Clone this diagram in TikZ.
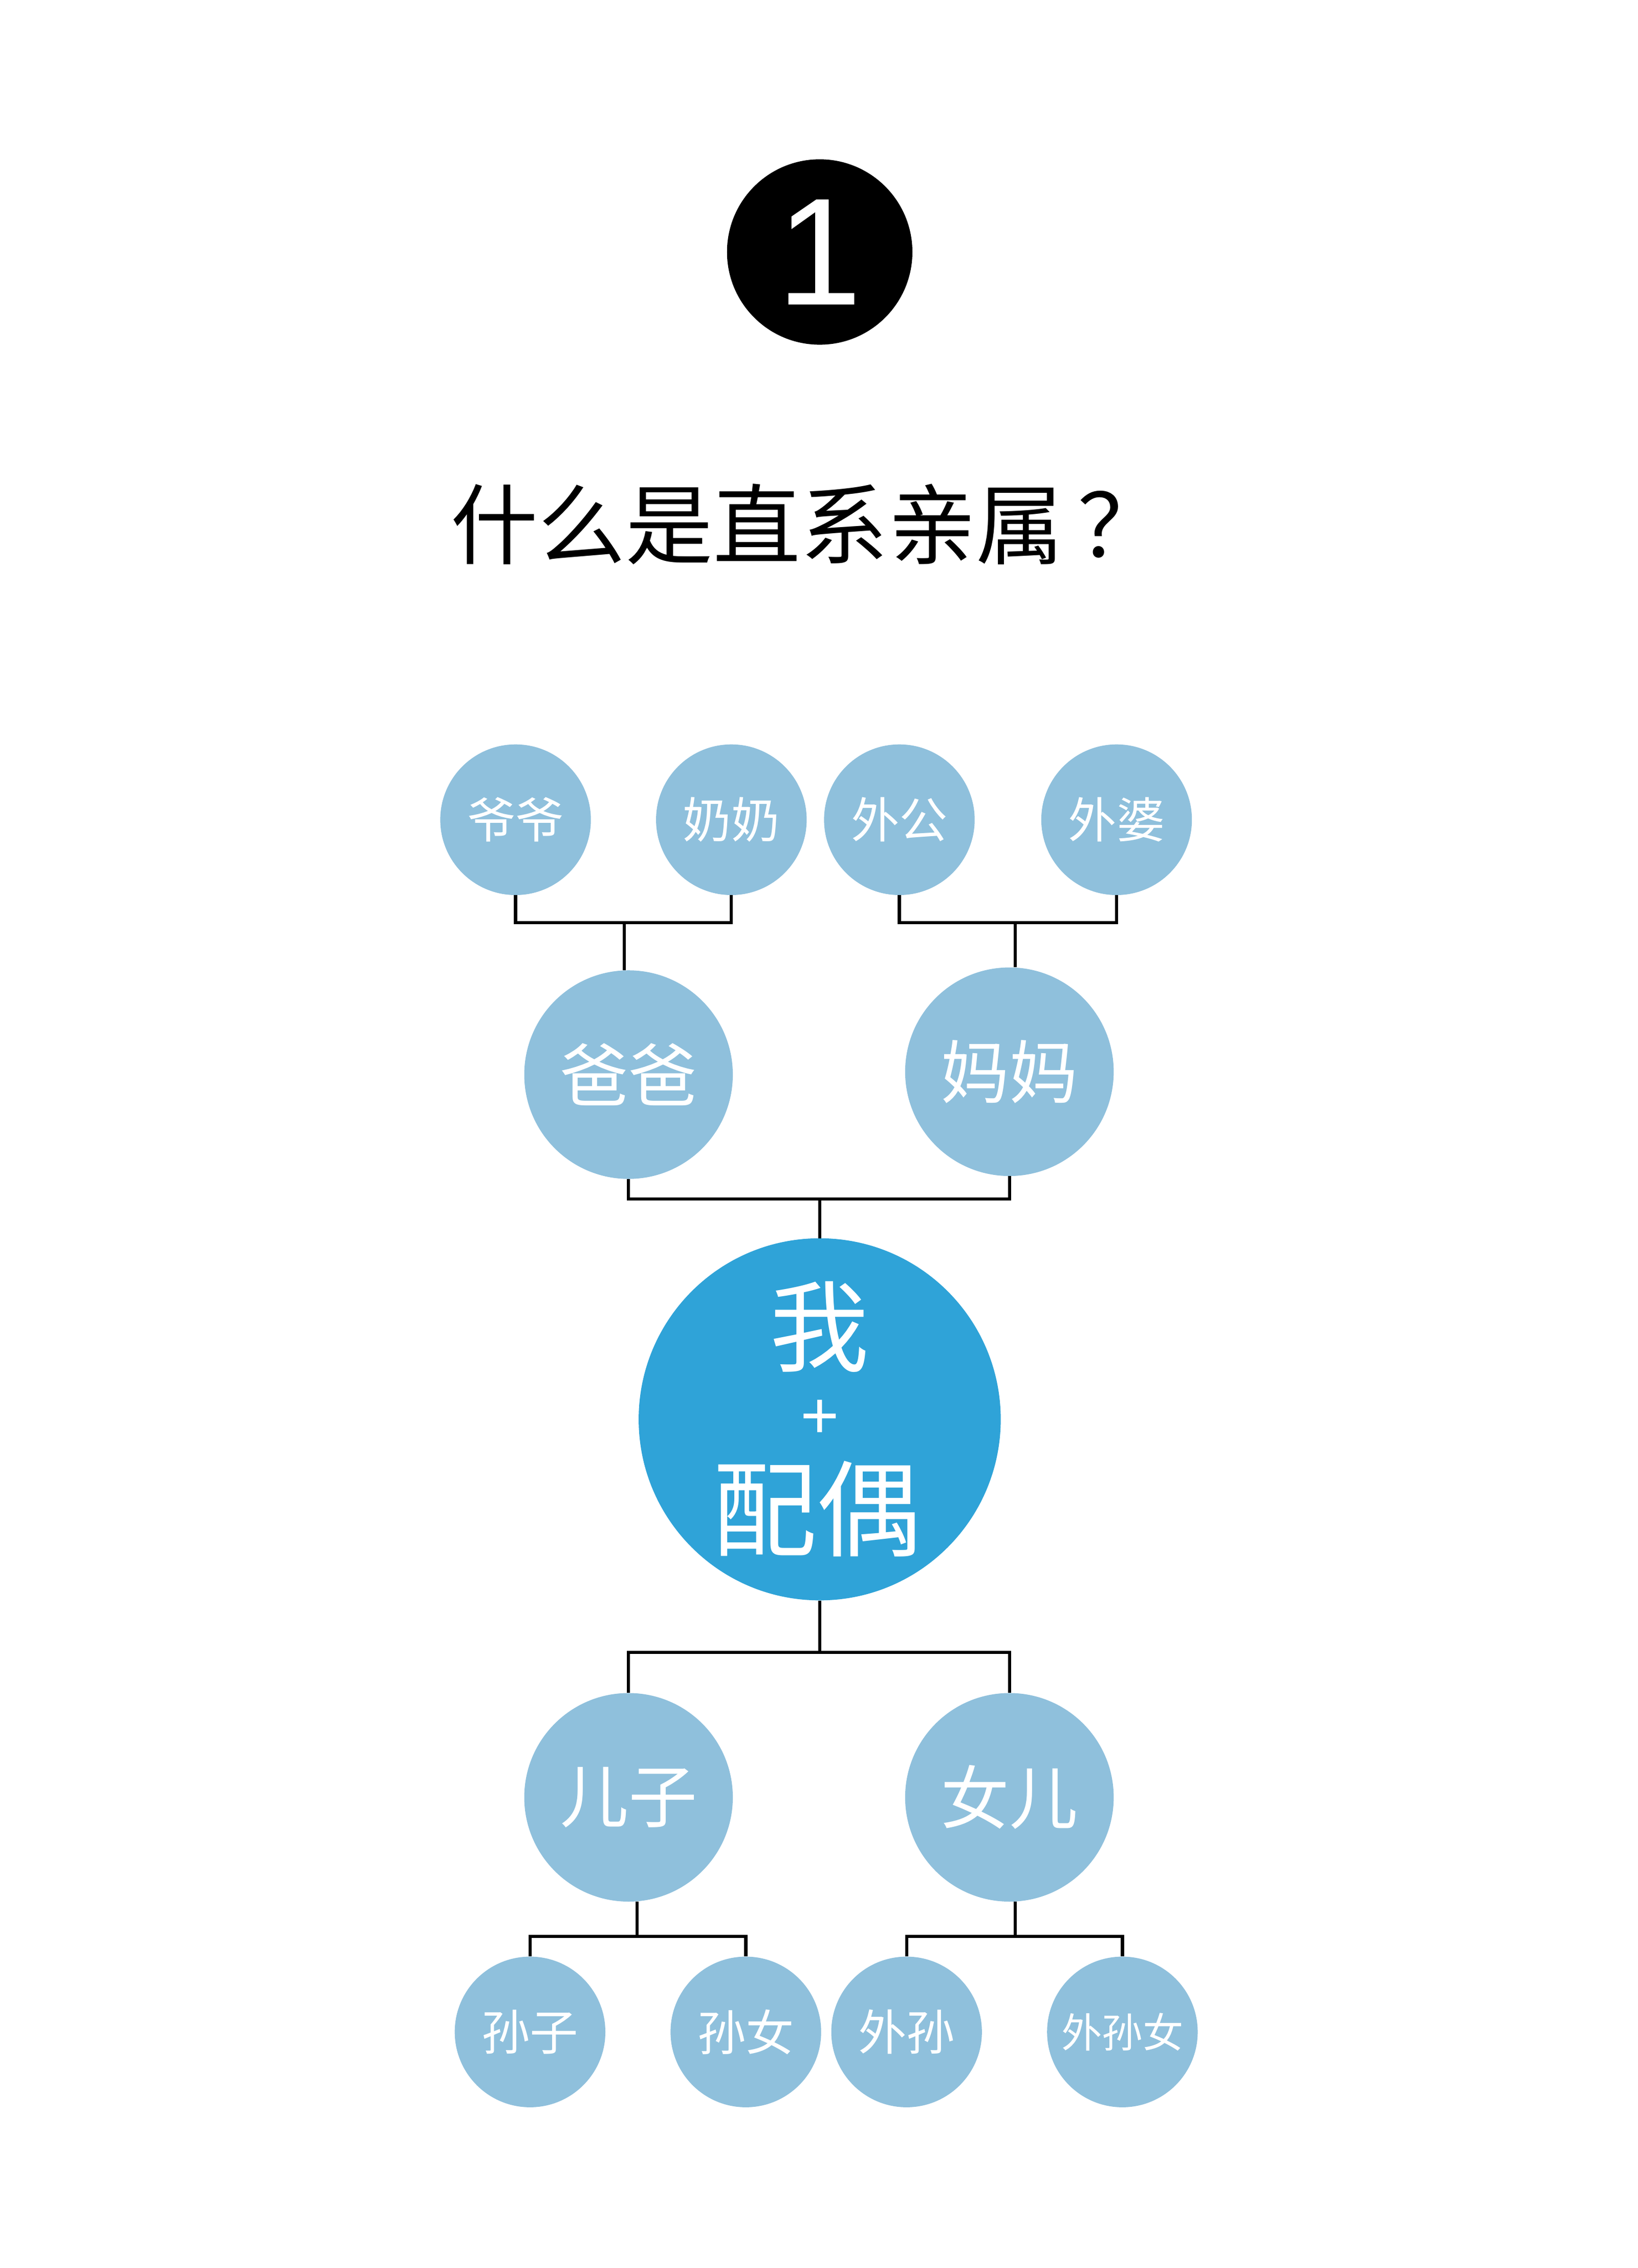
\documentclass[tikz,border=0pt]{standalone}
\usepackage{fontspec}
\setmainfont{Liberation Sans}
\newfontfamily\cjk{Noto Sans CJK SC}
\definecolor{lb}{HTML}{8FC0DC}
\definecolor{db}{HTML}{2FA3D8}
\begin{document}
\begin{tikzpicture}[x=1mm,y=-1mm,
  sm/.style={circle,fill=lb,minimum size=104mm,inner sep=0,text=white,font=\cjk\fontsize{95}{100}\selectfont},
  md/.style={circle,fill=lb,minimum size=144mm,inner sep=0,text=white,font=\cjk\fontsize{135}{140}\selectfont},
  ln/.style={line width=2.2mm,black},
  ct/.style={text=white,inner sep=0}]
\useasboundingbox[fill=white] (0,0) rectangle (1131,1566);
\node[circle,fill=black,minimum size=128mm,inner sep=0,text=white,font=\fontsize{300}{300}\selectfont] (one) at (566,174) {1};
\node[font=\cjk\fontsize{172}{180}\selectfont] (title) at (558,362) {什么是直系亲属\,？};
\node[sm] (yy) at (356,566) {爷爷};
\node[sm] (nn) at (505,566) {奶奶};
\node[sm] (wg) at (621,566) {外公};
\node[sm] (wp) at (771,566) {外婆};
\node[md] (bb) at (434,742) {爸爸};
\node[md] (mm) at (697,740) {妈妈};
\node[circle,fill=db,minimum size=250mm,inner sep=0] (me) at (566,980) {};
\node[ct,font=\cjk\fontsize{195}{200}\selectfont] (wo) at (566,916) {我};
\node[ct,font=\fontsize{130}{130}\selectfont] (plus) at (566,980) {+};
\node[ct,font=\cjk\fontsize{205}{210}\selectfont] (po) at (564,1042) {配偶};
\node[md] (ez) at (434,1241) {儿子};
\node[md] (ne) at (697,1241) {女儿};
\node[sm] (sz) at (366,1403) {孙子};
\node[sm] (sn) at (515,1403) {孙女};
\node[sm] (ws) at (626,1403) {外孙};
\node[sm,font=\cjk\fontsize{80}{90}\selectfont] (wsn) at (775,1403) {外孙女};
\draw[ln] (yy.south) |- (431,637) -| (nn.south);
\draw[ln] (431,637) -- (bb.north -| 431,0);
\draw[ln] (wg.south) |- (701,637) -| (wp.south);
\draw[ln] (701,637) -- (mm.north -| 701,0);
\draw[ln] (bb.south) |- (566,828) -| (mm.south);
\draw[ln] (566,828) -- (me.north);
\draw[ln] (me.south) -- (566,1141);
\draw[ln] (ez.north) |- (566,1141) -| (ne.north);
\draw[ln] (sz.north) |- (440,1337) -| (sn.north);
\draw[ln] (440,1337) -- (ez.south -| 440,0);
\draw[ln] (ws.north) |- (701,1337) -| (wsn.north);
\draw[ln] (701,1337) -- (ne.south -| 701,0);
\end{tikzpicture}
\end{document}
